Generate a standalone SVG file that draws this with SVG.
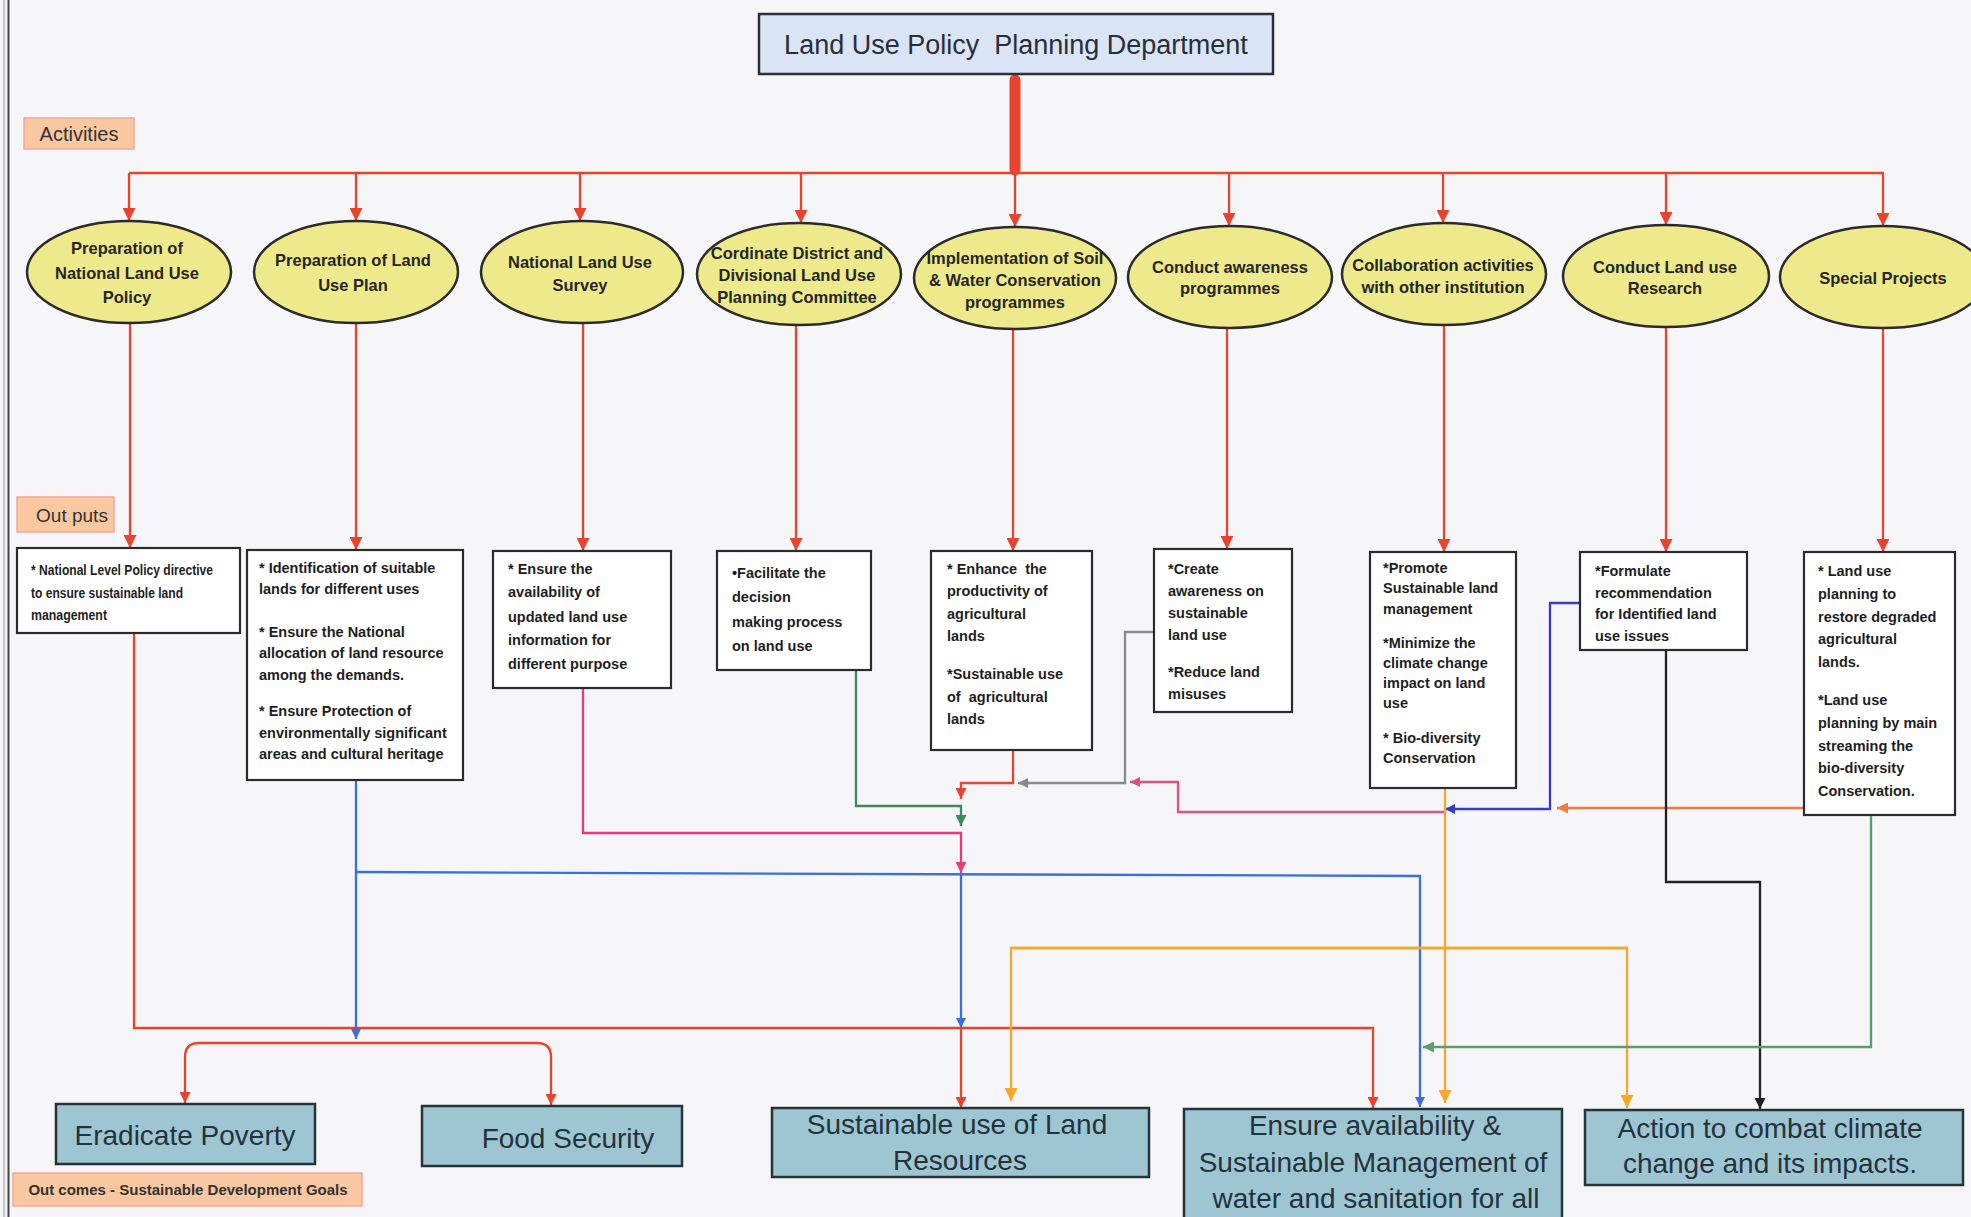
<svg xmlns="http://www.w3.org/2000/svg" width="1971" height="1217" viewBox="0 0 1971 1217">
<style>
.bg{fill:#f6f5f8}
.title{fill:#d9e4f5;stroke:#2e2e3a;stroke-width:2.5}
.tt{font-family:"Liberation Sans",Arial,sans-serif;font-size:27px;fill:#2a2d3a;text-anchor:middle;white-space:pre}
.lab{fill:#f9c8a0;stroke:#f0a8a0;stroke-width:1.5}
.lt{font-family:"Liberation Sans",Arial,sans-serif;fill:#333}
.ell{fill:#eeea8c;stroke:#2b2b2b;stroke-width:2.5}
.et{font-family:"Liberation Sans",Arial,sans-serif;font-weight:bold;font-size:16.5px;fill:#262626;text-anchor:middle}
.box{fill:#ffffff;stroke:#2b2b2b;stroke-width:2.2}
.bt{font-family:"Liberation Sans",Arial,sans-serif;font-weight:bold;font-size:14.5px;fill:#1e1e1e;white-space:pre}
.goal{fill:#9ec6d2;stroke:#26343a;stroke-width:2.5}
.gt{font-family:"Liberation Sans",Arial,sans-serif;font-size:28px;fill:#25323c;text-anchor:middle}
.c{fill:none;stroke-width:2.3;stroke-linejoin:miter}
.red{stroke:#e8432f}
.blue{stroke:#3b6fdc}
.mag{stroke:#e0407a}
.grn{stroke:#3d8a5e}
.gry{stroke:#8a8a8e}
.pnk{stroke:#e05080}
.ind{stroke:#3a3cc0}
.org{stroke:#f07a45}
.yel{stroke:#f5a82a}
.blk{stroke:#222222}
.grn2{stroke:#5a9e6c}
</style>
<defs>
<marker id="aRed" viewBox="0 0 12 12" refX="12" refY="6" markerWidth="13" markerHeight="13" markerUnits="userSpaceOnUse" orient="auto"><path d="M0,0 L12,6 L0,12 Z" fill="#e8432f"/></marker>
<marker id="aRedS" viewBox="0 0 12 12" refX="12" refY="6" markerWidth="11" markerHeight="11" markerUnits="userSpaceOnUse" orient="auto"><path d="M0,0 L12,6 L0,12 Z" fill="#e8432f"/></marker>
<marker id="aBlue" viewBox="0 0 12 12" refX="12" refY="6" markerWidth="10" markerHeight="10" markerUnits="userSpaceOnUse" orient="auto"><path d="M0,0 L12,6 L0,12 Z" fill="#3b6fdc"/></marker>
<marker id="aMag" viewBox="0 0 12 12" refX="12" refY="6" markerWidth="11" markerHeight="11" markerUnits="userSpaceOnUse" orient="auto"><path d="M0,0 L12,6 L0,12 Z" fill="#e0407a"/></marker>
<marker id="aGrn" viewBox="0 0 12 12" refX="12" refY="6" markerWidth="11" markerHeight="11" markerUnits="userSpaceOnUse" orient="auto"><path d="M0,0 L12,6 L0,12 Z" fill="#3d8a5e"/></marker>
<marker id="aGry" viewBox="0 0 12 12" refX="12" refY="6" markerWidth="10" markerHeight="10" markerUnits="userSpaceOnUse" orient="auto"><path d="M0,0 L12,6 L0,12 Z" fill="#8a8a8e"/></marker>
<marker id="aPnk" viewBox="0 0 12 12" refX="12" refY="6" markerWidth="10" markerHeight="10" markerUnits="userSpaceOnUse" orient="auto"><path d="M0,0 L12,6 L0,12 Z" fill="#e05080"/></marker>
<marker id="aInd" viewBox="0 0 12 12" refX="12" refY="6" markerWidth="10" markerHeight="10" markerUnits="userSpaceOnUse" orient="auto"><path d="M0,0 L12,6 L0,12 Z" fill="#3a3cc0"/></marker>
<marker id="aOrg" viewBox="0 0 12 12" refX="12" refY="6" markerWidth="11" markerHeight="11" markerUnits="userSpaceOnUse" orient="auto"><path d="M0,0 L12,6 L0,12 Z" fill="#f07a45"/></marker>
<marker id="aYel" viewBox="0 0 12 12" refX="12" refY="6" markerWidth="13" markerHeight="13" markerUnits="userSpaceOnUse" orient="auto"><path d="M0,0 L12,6 L0,12 Z" fill="#f5a82a"/></marker>
<marker id="aBlk" viewBox="0 0 12 12" refX="12" refY="6" markerWidth="11" markerHeight="11" markerUnits="userSpaceOnUse" orient="auto"><path d="M0,0 L12,6 L0,12 Z" fill="#222222"/></marker>
<marker id="aGrn2" viewBox="0 0 12 12" refX="12" refY="6" markerWidth="11" markerHeight="11" markerUnits="userSpaceOnUse" orient="auto"><path d="M0,0 L12,6 L0,12 Z" fill="#5a9e6c"/></marker>
</defs>

<rect class="bg" x="0" y="0" width="1971" height="1217"/>
<line x1="4" y1="0" x2="4" y2="1217" stroke="#9a9a9a" stroke-width="1"/>
<line x1="8.5" y1="0" x2="8.5" y2="1217" stroke="#444" stroke-width="2"/>

<g id="connectors">
  <line x1="1015" y1="80" x2="1015" y2="170" stroke="#e8432f" stroke-width="11" stroke-linecap="round"/>
  <line class="c red" x1="129" y1="173" x2="1884" y2="173" stroke-width="3"/>
  <line class="c red" x1="129" y1="173" x2="129" y2="221" marker-end="url(#aRed)"/>
  <line class="c red" x1="356" y1="173" x2="356" y2="221" marker-end="url(#aRed)"/>
  <line class="c red" x1="580" y1="173" x2="580" y2="221" marker-end="url(#aRed)"/>
  <line class="c red" x1="801" y1="173" x2="801" y2="223" marker-end="url(#aRed)"/>
  <line class="c red" x1="1015" y1="173" x2="1015" y2="227" marker-end="url(#aRed)"/>
  <line class="c red" x1="1229" y1="173" x2="1229" y2="226" marker-end="url(#aRed)"/>
  <line class="c red" x1="1443" y1="173" x2="1443" y2="223" marker-end="url(#aRed)"/>
  <line class="c red" x1="1666" y1="173" x2="1666" y2="225" marker-end="url(#aRed)"/>
  <line class="c red" x1="1883" y1="173" x2="1883" y2="226" marker-end="url(#aRed)"/>
  <line class="c red" x1="130" y1="323" x2="130" y2="548" marker-end="url(#aRed)"/>
  <line class="c red" x1="356" y1="323" x2="356" y2="550" marker-end="url(#aRed)"/>
  <line class="c red" x1="583" y1="323" x2="583" y2="551" marker-end="url(#aRed)"/>
  <line class="c red" x1="796" y1="325" x2="796" y2="551" marker-end="url(#aRed)"/>
  <line class="c red" x1="1013" y1="330" x2="1013" y2="551" marker-end="url(#aRed)"/>
  <line class="c red" x1="1227" y1="329" x2="1227" y2="549" marker-end="url(#aRed)"/>
  <line class="c red" x1="1444" y1="325" x2="1444" y2="552" marker-end="url(#aRed)"/>
  <line class="c red" x1="1666" y1="328" x2="1666" y2="552" marker-end="url(#aRed)"/>
  <line class="c red" x1="1883" y1="329" x2="1883" y2="552" marker-end="url(#aRed)"/>

  <path class="c red" d="M134,633 V1028 H1373 V1108" marker-end="url(#aRedS)"/>
  <path class="c red" d="M961,1028 V1108" marker-end="url(#aRedS)"/>
  <path class="c blue" d="M356,780 V1039" marker-end="url(#aBlue)"/>
  <path class="c blue" d="M356,872 L1420,876 V1107" marker-end="url(#aBlue)"/>
  <path class="c blue" d="M961,874 V1028" marker-end="url(#aBlue)"/>
  <path class="c red" d="M370,1043 H537 Q551,1043 551,1057 V1105" marker-end="url(#aRedS)"/>
  <path class="c red" d="M370,1043 H199 Q185,1043 185,1057 V1103" marker-end="url(#aRedS)"/>
  <path class="c mag" d="M583,688 V833 H961 V873" marker-end="url(#aMag)"/>
  <path class="c grn" d="M856,670 V806 H961 V826" marker-end="url(#aGrn)"/>
  <path class="c red" d="M1013,750 V783 H961 V799" marker-end="url(#aRedS)"/>
  <path class="c gry" d="M1154,632 H1125 V783 H1018" marker-end="url(#aGry)"/>
  <path class="c pnk" d="M1444,812 H1178 V782 H1130" marker-end="url(#aPnk)"/>
  <path class="c ind" d="M1580,603 H1550 V809 H1445" marker-end="url(#aInd)"/>
  <path class="c org" d="M1804,808 H1557" marker-end="url(#aOrg)"/>
  <path class="c yel" d="M1445,788 V1103" marker-end="url(#aYel)"/>
  <path class="c yel" d="M1627,948 H1011 V1101" marker-end="url(#aYel)"/>
  <path class="c yel" d="M1011,948 H1627 V1108" marker-end="url(#aYel)"/>
  <path class="c blk" d="M1666,650 V882 H1760 V1109" marker-end="url(#aBlk)"/>
  <path class="c grn2" d="M1871,815 V1047 H1423" marker-end="url(#aGrn2)"/>
</g>

<g id="title">
  <rect class="title" x="759" y="14" width="514" height="60"/>
  <text class="tt" x="1016" y="54">Land Use Policy  Planning Department</text>
</g>

<g id="label-activities">
  <rect class="lab" x="24" y="118" width="110" height="31"/>
  <text class="lt" x="79" y="141" font-size="20" text-anchor="middle">Activities</text>
</g>
<g id="label-outputs">
  <rect class="lab" x="17" y="497" width="97" height="35"/>
  <text class="lt" x="72" y="522" font-size="19" text-anchor="middle">Out puts</text>
</g>
<g id="label-outcomes">
  <rect class="lab" x="13" y="1173" width="349" height="33"/>
  <text class="lt" x="188" y="1195" font-size="15" font-weight="bold" text-anchor="middle">Out comes - Sustainable Development Goals</text>
</g>

<g id="act1"><ellipse class="ell" cx="129" cy="272" rx="102" ry="51"/>
  <text class="et" x="127" y="254">Preparation of</text><text class="et" x="127" y="279">National Land Use</text><text class="et" x="127" y="303">Policy</text></g>
<g id="act2"><ellipse class="ell" cx="356" cy="272" rx="102" ry="51"/>
  <text class="et" x="353" y="266">Preparation of Land</text><text class="et" x="353" y="291">Use Plan</text></g>
<g id="act3"><ellipse class="ell" cx="582" cy="272" rx="101" ry="51"/>
  <text class="et" x="580" y="268">National Land Use</text><text class="et" x="580" y="291">Survey</text></g>
<g id="act4"><ellipse class="ell" cx="799" cy="274" rx="102" ry="51"/>
  <text class="et" x="797" y="259">Cordinate District and</text><text class="et" x="797" y="281">Divisional Land Use</text><text class="et" x="797" y="303">Planning Committee</text></g>
<g id="act5"><ellipse class="ell" cx="1015" cy="278" rx="101" ry="51"/>
  <text class="et" x="1015" y="264">Implementation of Soil</text><text class="et" x="1015" y="286">&amp; Water Conservation</text><text class="et" x="1015" y="308">programmes</text></g>
<g id="act6"><ellipse class="ell" cx="1230" cy="277" rx="102" ry="51"/>
  <text class="et" x="1230" y="273">Conduct awareness</text><text class="et" x="1230" y="294">programmes</text></g>
<g id="act7"><ellipse class="ell" cx="1444" cy="274" rx="102" ry="51"/>
  <text class="et" x="1443" y="271">Collaboration activities</text><text class="et" x="1443" y="293">with other institution</text></g>
<g id="act8"><ellipse class="ell" cx="1666" cy="276" rx="103" ry="51"/>
  <text class="et" x="1665" y="273">Conduct Land use</text><text class="et" x="1665" y="294">Research</text></g>
<g id="act9"><ellipse class="ell" cx="1883" cy="277" rx="103" ry="51"/>
  <text class="et" x="1883" y="284">Special Projects</text></g>

<g id="out1"><rect class="box" x="17" y="548" width="223" height="85"/>
  <text class="bt" font-size="12.5" x="31" y="575" textLength="182" lengthAdjust="spacingAndGlyphs">* National Level Policy directive</text>
  <text class="bt" font-size="12.5" x="31" y="598" textLength="152" lengthAdjust="spacingAndGlyphs">to ensure sustainable land</text>
  <text class="bt" font-size="12.5" x="31" y="620" textLength="76" lengthAdjust="spacingAndGlyphs">management</text></g>
<g id="out2"><rect class="box" x="247" y="550" width="216" height="230"/>
  <text class="bt" font-size="13.8" x="259" y="573">* Identification of suitable</text>
  <text class="bt" font-size="13.8" x="259" y="594">lands for different uses</text>
  <text class="bt" font-size="13.8" x="259" y="637">* Ensure the National</text>
  <text class="bt" font-size="13.8" x="259" y="658">allocation of land resource</text>
  <text class="bt" font-size="13.8" x="259" y="680">among the demands.</text>
  <text class="bt" font-size="13.8" x="259" y="716">* Ensure Protection of</text>
  <text class="bt" font-size="13.8" x="259" y="738">environmentally significant</text>
  <text class="bt" font-size="13.8" x="259" y="759">areas and cultural heritage</text></g>
<g id="out3"><rect class="box" x="493" y="551" width="178" height="137"/>
  <text class="bt" font-size="15.3" x="508" y="574">* Ensure the</text>
  <text class="bt" font-size="15.3" x="508" y="597">availability of</text>
  <text class="bt" font-size="15.3" x="508" y="622">updated land use</text>
  <text class="bt" font-size="15.3" x="508" y="645">information for</text>
  <text class="bt" font-size="15.3" x="508" y="669">different purpose</text></g>
<g id="out4"><rect class="box" x="717" y="551" width="154" height="119"/>
  <text class="bt" font-size="15.8" x="732" y="578">•Facilitate the</text>
  <text class="bt" font-size="15.8" x="732" y="602">decision</text>
  <text class="bt" font-size="15.8" x="732" y="627">making process</text>
  <text class="bt" font-size="15.8" x="732" y="651">on land use</text></g>
<g id="out5"><rect class="box" x="931" y="551" width="161" height="199"/>
  <text class="bt" font-size="15.8" x="947" y="574">* Enhance  the</text>
  <text class="bt" font-size="15.8" x="947" y="596">productivity of</text>
  <text class="bt" font-size="15.8" x="947" y="619">agricultural</text>
  <text class="bt" font-size="15.8" x="947" y="641">lands</text>
  <text class="bt" font-size="15.8" x="947" y="679">*Sustainable use</text>
  <text class="bt" font-size="15.8" x="947" y="702">of  agricultural</text>
  <text class="bt" font-size="15.8" x="947" y="724">lands</text></g>
<g id="out6"><rect class="box" x="1154" y="549" width="138" height="163"/>
  <text class="bt" x="1168" y="574">*Create</text>
  <text class="bt" x="1168" y="596">awareness on</text>
  <text class="bt" x="1168" y="618">sustainable</text>
  <text class="bt" x="1168" y="640">land use</text>
  <text class="bt" x="1168" y="677">*Reduce land</text>
  <text class="bt" x="1168" y="699">misuses</text></g>
<g id="out7"><rect class="box" x="1370" y="552" width="146" height="236"/>
  <text class="bt" font-size="14" x="1383" y="573">*Promote</text>
  <text class="bt" font-size="14" x="1383" y="593">Sustainable land</text>
  <text class="bt" font-size="14" x="1383" y="614">management</text>
  <text class="bt" font-size="14" x="1383" y="648">*Minimize the</text>
  <text class="bt" font-size="14" x="1383" y="668">climate change</text>
  <text class="bt" font-size="14" x="1383" y="688">impact on land</text>
  <text class="bt" font-size="14" x="1383" y="708">use</text>
  <text class="bt" font-size="14" x="1383" y="743">* Bio-diversity</text>
  <text class="bt" font-size="14" x="1383" y="763">Conservation</text></g>
<g id="out8"><rect class="box" x="1580" y="552" width="167" height="98"/>
  <text class="bt" x="1595" y="576">*Formulate</text>
  <text class="bt" x="1595" y="598">recommendation</text>
  <text class="bt" x="1595" y="619">for Identified land</text>
  <text class="bt" x="1595" y="641">use issues</text></g>
<g id="out9"><rect class="box" x="1804" y="552" width="151" height="263"/>
  <text class="bt" x="1818" y="576">* Land use</text>
  <text class="bt" x="1818" y="599">planning to</text>
  <text class="bt" x="1818" y="622">restore degraded</text>
  <text class="bt" x="1818" y="644">agricultural</text>
  <text class="bt" x="1818" y="667">lands.</text>
  <text class="bt" x="1818" y="705">*Land use</text>
  <text class="bt" x="1818" y="728">planning by main</text>
  <text class="bt" x="1818" y="751">streaming the</text>
  <text class="bt" x="1818" y="773">bio-diversity</text>
  <text class="bt" x="1818" y="796">Conservation.</text></g>

<g id="goal1"><rect class="goal" x="56" y="1104" width="259" height="60"/>
  <text class="gt" x="185" y="1145">Eradicate Poverty</text></g>
<g id="goal2"><rect class="goal" x="422" y="1106" width="260" height="60"/>
  <text class="gt" font-size="29" x="568" y="1148">Food Security</text></g>
<g id="goal3"><rect class="goal" x="772" y="1108" width="377" height="69"/>
  <text class="gt" font-size="27" x="957" y="1134">Sustainable use of Land</text>
  <text class="gt" font-size="27" x="960" y="1170">Resources</text></g>
<g id="goal4"><rect class="goal" x="1184" y="1109" width="378" height="112"/>
  <text class="gt" x="1375" y="1135">Ensure availability &amp;</text>
  <text class="gt" x="1373" y="1172">Sustainable Management of</text>
  <text class="gt" x="1376" y="1208">water and sanitation for all</text></g>
<g id="goal5"><rect class="goal" x="1585" y="1110" width="378" height="75"/>
  <text class="gt" x="1770" y="1138">Action to combat climate</text>
  <text class="gt" x="1770" y="1173">change and its impacts.</text></g>
</svg>
